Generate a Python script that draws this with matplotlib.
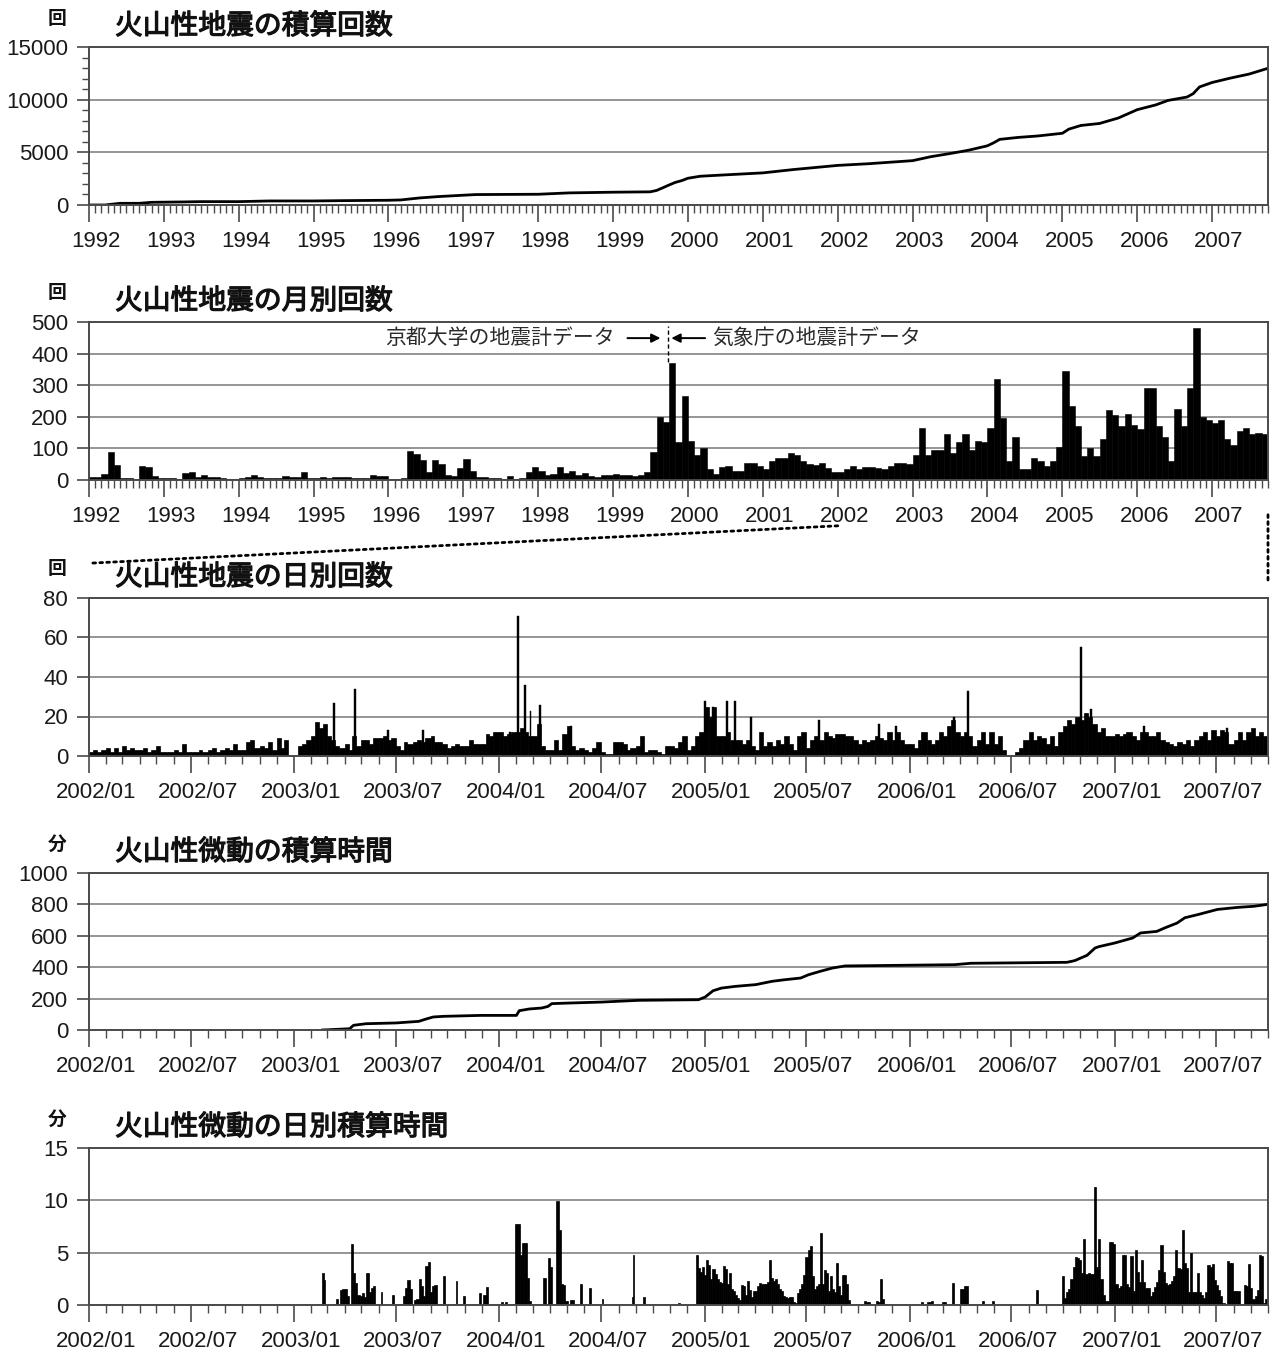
import datetime as dt

import numpy as np
import matplotlib
matplotlib.use("Agg")
import matplotlib.pyplot as plt
import matplotlib.dates as mdates
import matplotlib.patheffects as pe
from matplotlib.patches import ConnectionPatch
from matplotlib.ticker import MultipleLocator
from matplotlib.transforms import ScaledTranslation

plt.rcParams['font.family'] = ['Liberation Sans', 'Noto Sans CJK JP']
JP = ['Noto Sans CJK JP', 'DejaVu Sans']

# 火山性地震の積算回数 (1992-2007)
eq_cum_dates = ['1992-01-01', '1992-03-20', '1992-04-15', '1992-06-01', '1992-09-01', '1992-11-01',
                '1993-04-01', '1993-07-01', '1994-01-01', '1994-06-01', '1995-01-01', '1995-06-01',
                '1996-01-01', '1996-03-01', '1996-06-01', '1996-09-01', '1997-01-01', '1997-03-01',
                '1998-01-01', '1998-06-01', '1999-01-01', '1999-07-01', '1999-08-01', '1999-09-01',
                '1999-10-01', '1999-11-01', '1999-12-01', '2000-01-01', '2000-03-01', '2000-06-01',
                '2001-01-01', '2001-06-01', '2002-01-01', '2002-06-01', '2003-01-01', '2003-04-01',
                '2003-07-01', '2003-10-01', '2004-01-01', '2004-02-01', '2004-03-01', '2004-06-01',
                '2004-09-01', '2005-01-01', '2005-02-01', '2005-04-01', '2005-07-01', '2005-10-01',
                '2006-01-01', '2006-04-01', '2006-06-01', '2006-09-01', '2006-10-01', '2006-11-01',
                '2007-01-01', '2007-04-01', '2007-07-01', '2007-10-01']
eq_cum_values = [0, 0, 60, 160, 160, 255,
                 290, 320, 320, 385, 385, 415,
                 450, 480, 670, 800, 930, 990,
                 1020, 1150, 1215, 1250, 1380, 1640,
                 1900, 2150, 2310, 2540, 2730, 2830,
                 3050, 3370, 3760, 3920, 4210, 4590,
                 4880, 5200, 5620, 5910, 6230, 6420,
                 6550, 6810, 7200, 7550, 7740, 8260,
                 9050, 9500, 9930, 10250, 10570, 11210,
                 11630, 12050, 12430, 12980]

# 火山性地震の月別回数, 1992/01 .. 2007/09
eq_monthly = [
    10, 8, 20, 88, 48, 6, 5, 3, 45, 40, 12, 7,             # 1992
    6, 5, 3, 22, 25, 8, 15, 10, 8, 5, 3, 2,                # 1993
    5, 10, 17, 10, 6, 5, 5, 12, 10, 8, 24, 7,              # 1994
    6, 8, 5, 10, 10, 8, 6, 5, 6, 15, 14, 12,               # 1995
    3, 2, 5, 92, 82, 62, 25, 62, 50, 15, 12, 38,           # 1996
    68, 27, 10, 8, 6, 5, 4, 12, 3, 5, 25, 40,              # 1997
    28, 15, 18, 42, 22, 28, 15, 22, 14, 10, 15, 15,        # 1998
    18, 15, 15, 14, 15, 25, 90, 200, 185, 370, 120, 265,   # 1999
    125, 80, 100, 35, 20, 40, 45, 30, 30, 55, 55, 45,      # 2000
    35, 60, 70, 70, 85, 80, 60, 50, 48, 55, 38, 25,        # 2001
    25, 35, 45, 35, 40, 40, 38, 35, 45, 55, 55, 50,        # 2002
    80, 165, 80, 95, 95, 145, 85, 120, 145, 95, 125, 120,  # 2003
    165, 320, 195, 60, 135, 35, 35, 70, 60, 45, 60, 105,   # 2004
    345, 235, 170, 75, 100, 75, 130, 220, 205, 170, 210, 175,  # 2005
    160, 290, 290, 170, 135, 60, 225, 170, 290, 480, 200, 190,  # 2006
    180, 190, 130, 110, 155, 165, 145, 150, 145,           # 2007
]

# 火山性地震の日別回数: typical level per quarter month (4 values per month)
daily_2002 = [2, 3, 2, 3, 4, 2, 4, 2, 5, 3, 4, 3, 3, 4, 2, 3, 5, 2, 2, 2, 3, 2, 6, 2,
              2, 2, 3, 2, 3, 4, 2, 3, 4, 3, 6, 3, 3, 7, 8, 4, 5, 4, 7, 3, 9, 4, 8, 0]
daily_2003 = [0, 5, 6, 8, 10, 17, 14, 16, 10, 8, 5, 4, 6, 3, 10, 5, 8, 8, 6, 9, 9, 10, 8, 9,
              5, 3, 7, 6, 7, 8, 7, 9, 10, 7, 7, 6, 4, 5, 6, 5, 5, 8, 6, 6, 6, 11, 10, 12]
daily_2004 = [12, 10, 11, 12, 12, 14, 12, 10, 10, 16, 5, 3, 3, 8, 3, 11, 15, 5, 3, 4, 3, 2, 4, 7,
              2, 1, 1, 7, 7, 6, 3, 4, 5, 10, 2, 3, 3, 2, 1, 5, 5, 4, 7, 10, 3, 5, 10, 12]
daily_2005 = [25, 20, 25, 10, 10, 12, 8, 8, 8, 6, 8, 5, 3, 12, 5, 7, 5, 8, 6, 10, 6, 3, 10, 12,
              4, 8, 10, 8, 12, 10, 9, 11, 11, 10, 10, 8, 6, 8, 7, 8, 10, 9, 8, 12, 8, 12, 8, 6]
daily_2006 = [6, 4, 8, 12, 8, 6, 8, 12, 10, 15, 18, 12, 10, 12, 10, 5, 8, 12, 6, 12, 6, 10, 3, 0,
              0, 2, 4, 8, 12, 8, 10, 9, 6, 10, 5, 12, 15, 18, 16, 20, 18, 22, 20, 16, 12, 14, 10, 10]
daily_2007 = [11, 10, 11, 12, 10, 8, 12, 12, 10, 10, 12, 8, 7, 6, 5, 7, 6, 8, 5, 8, 10, 12, 8, 13,
              10, 13, 12, 6, 8, 12, 8, 12, 14, 10, 12, 10]

# single days that stand out above the typical level
spike_dates = ['2003-03-14', '2003-04-19', '2003-06-18', '2003-08-19', '2004-01-20', '2004-02-03',
               '2004-02-16', '2004-02-26', '2004-03-14', '2004-05-08', '2005-01-02', '2005-01-16',
               '2005-02-10', '2005-02-24', '2005-03-25', '2005-07-24', '2005-11-07', '2005-12-07',
               '2006-03-21', '2006-04-15', '2006-11-02', '2006-11-20', '2007-02-22', '2007-07-20']
spike_counts = [27, 34, 13, 13, 12, 71,
                36, 23, 26, 15, 28, 25,
                28, 28, 20, 18, 16, 15,
                20, 33, 55, 24, 15, 14]

# 火山性微動の積算時間 (分)
tremor_cum_dates = ['2003-02-21', '2003-04-10', '2003-04-17', '2003-05-09', '2003-07-02', '2003-08-11',
                    '2003-08-26', '2003-09-06', '2003-09-24', '2003-11-29', '2004-02-01', '2004-02-06',
                    '2004-02-24', '2004-03-17', '2004-03-28', '2004-04-04', '2004-05-07', '2004-07-02',
                    '2004-09-06', '2004-12-21', '2005-01-02', '2005-01-16', '2005-01-31', '2005-02-25',
                    '2005-04-02', '2005-05-01', '2005-05-23', '2005-06-21', '2005-07-05', '2005-07-26',
                    '2005-08-17', '2005-09-08', '2006-03-22', '2006-04-20', '2006-10-08', '2006-10-22',
                    '2006-11-13', '2006-11-27', '2006-12-04', '2007-01-01', '2007-02-02', '2007-02-16',
                    '2007-03-17', '2007-03-31', '2007-04-22', '2007-05-06', '2007-05-28', '2007-07-03',
                    '2007-08-08', '2007-09-06', '2007-09-30']
tremor_cum_values = [0, 8, 30, 40, 45, 55, 72, 83, 87, 93, 93, 123,
                     134, 140, 150, 168, 172, 178, 189, 193, 210, 250, 267, 278,
                     289, 310, 320, 331, 352, 374, 395, 408, 416, 425, 431, 442,
                     476, 522, 531, 554, 586, 618, 628, 650, 681, 715, 734, 768,
                     781, 788, 800]

# 火山性微動の日別積算時間: runs of active days (first day, last day, minutes)
tremor_first = ['2003-02-21', '2003-03-18', '2003-04-14', '2003-06-06', '2003-06-26', '2003-07-16',
                '2003-09-25', '2003-10-17', '2003-10-31', '2003-11-28', '2004-01-06', '2004-02-01',
                '2004-03-22', '2004-04-14', '2004-05-26', '2004-06-11', '2004-07-03', '2004-08-25',
                '2004-09-15', '2004-11-16', '2004-12-19', '2005-10-14', '2006-01-23', '2006-03-02',
                '2006-05-11', '2006-08-16', '2006-10-01']
tremor_last = ['2003-02-24', '2003-04-07', '2003-05-24', '2003-06-06', '2003-06-26', '2003-09-10',
               '2003-09-25', '2003-10-17', '2003-10-31', '2003-12-10', '2004-01-14', '2004-02-25',
               '2004-04-03', '2004-05-12', '2004-05-26', '2004-06-11', '2004-07-03', '2004-08-27',
               '2004-09-15', '2004-11-16', '2005-09-15', '2005-11-15', '2006-02-10', '2006-04-14',
               '2006-05-29', '2006-08-16', '2007-09-28']
tremor_minutes = [
    [3.1, 2.4],
    [0.6, 0, 1.4, 1.5, 1.5, 0.9],
    [5.8, 3.1, 2.1, 1.0, 0.9, 1.1, 0.8, 3.1, 1.2, 1.6, 1.8],
    [1.2],
    [1.0],
    [0.9, 1.6, 2.4, 1.5, 0, 0.5, 0.6, 2.5, 1.8, 0.9, 3.7, 4.1, 1.2, 1.8, 1.9],
    [2.8],
    [2.3],
    [0.9],
    [1.1, 0, 1.0, 1.7],
    [0.3, 0, 0.3],
    [7.7, 7.7, 4.8, 5.9, 5.9, 2.6, 0.4],
    [2.6, 0, 4.5, 3.6],
    [9.9, 7.2, 2.0, 1.9, 0.4, 0, 0.5, 0.5],
    [2.0],
    [1.6],
    [0.6],
    [0.8, 4.8],
    [0.8],
    [0.2],
    [4.8, 3.5, 3.2, 3.6, 2.9, 4.3, 3.8, 2.5, 3.4, 3.0, 2.5, 2.2, 2.1, 3.7, 3.4, 2.0,
     3.1, 1.5, 1.3, 1.0, 0.7, 0.5, 1.9, 1.8, 1.0, 2.3, 1.4, 0.8, 1.3, 1.3, 1.8, 2.1,
     2.0, 2.0, 2.0, 2.2, 4.3, 2.6, 2.3, 2.5, 2.0, 1.5, 1.3, 0.9, 0.8, 0.7, 0.8, 0.8,
     0.3, 0.2, 1.1, 1.5, 2.0, 2.9, 4.6, 5.3, 5.6, 2.8, 1.5, 1.8, 2.0, 6.9, 2.0, 3.3,
     3.1, 1.3, 2.8, 1.5, 1.2, 4.0, 1.8, 1.0, 2.9, 2.9, 2.0, 0.5],
    [0.4, 0.3, 0.3, 0, 0, 0, 0.4, 0.3, 2.5, 0.6],
    [0.3, 0, 0, 0.3, 0.3, 0.4],
    [0.3, 0.3, 0, 0, 0, 2.1, 0, 0, 0, 1.5, 1.5, 1.8, 1.8],
    [0.4, 0, 0, 0, 0, 0.4],
    [1.4],
    [2.8, 0.7, 1.2, 1.5, 2.5, 3.6, 4.6, 4.5, 4.3, 3.1, 6.3, 3.0, 3.1, 3.0, 3.0, 11.3,
     3.6, 6.3, 2.5, 1.0, 0.4, 0.4, 6.0, 6.0, 5.8, 2.0, 1.6, 1.8, 4.8, 4.8, 2.0, 1.7,
     4.7, 1.3, 5.3, 3.2, 2.2, 4.3, 2.2, 1.6, 1.6, 0.9, 1.2, 1.7, 2.2, 3.3, 5.7, 3.2,
     2.1, 1.9, 2.0, 2.3, 2.8, 5.3, 3.5, 3.4, 7.2, 4.0, 3.5, 1.2, 5.0, 1.2, 1.2, 3.1,
     1.2, 1.0, 0.7, 1.2, 3.8, 3.6, 3.9, 2.4, 1.9, 1.4, 0.9, 0.2, 0, 4.2, 4.0, 4.0,
     1.3, 1.3, 1.3, 0.1, 0, 1.9, 1.8, 3.9, 1.6, 0.6, 0.9, 1.4, 4.8, 4.7, 0.2, 0.6],
]


def to_num(s):
    return mdates.date2num(dt.datetime.strptime(s, '%Y-%m-%d'))


def month_start(year, month):
    year += (month - 1) // 12
    month = (month - 1) % 12 + 1
    return dt.datetime(year, month, 1)


W, H = 1274, 1353
LEFT, RIGHT = 89, 1268
GRID = '#8c8c8c'
SPINE = '#4a4a4a'
TICK_FS = 16

fig = plt.figure(figsize=(W / 100, H / 100), dpi=100)
# a thin outline gives the regular CJK face a medium weight
heavier = [pe.withStroke(linewidth=0.9, foreground='#111111')]


def panel(top, bottom, ymax, ystep, title, unit, long_axis):
    ax = fig.add_axes([LEFT / W, 1 - bottom / H, (RIGHT - LEFT) / W, (bottom - top) / H])
    ax.set_ylim(0, ymax)
    ax.set_yticks(np.arange(0, ymax + 1, ystep))
    ax.yaxis.grid(True, color=GRID, lw=1.3)
    ax.set_axisbelow(True)
    for sp in ax.spines.values():
        sp.set_color(SPINE)
        sp.set_linewidth(1.4)
    if long_axis:
        ax.set_xlim(dt.datetime(1992, 1, 1), dt.datetime(2007, 10, 1))
        ax.xaxis.set_major_locator(mdates.YearLocator())
        ax.xaxis.set_major_formatter(mdates.DateFormatter('%Y'))
    else:
        ax.set_xlim(dt.datetime(2002, 1, 1), dt.datetime(2007, 10, 1))
        ax.xaxis.set_major_locator(mdates.MonthLocator(bymonth=[1, 7]))
        ax.xaxis.set_major_formatter(mdates.DateFormatter('%Y/%m'))
    ax.xaxis.set_minor_locator(mdates.MonthLocator())
    ax.tick_params(axis='x', which='major', length=12, width=1.2, color=SPINE,
                   labelsize=TICK_FS, pad=7, labelcolor='#1a1a1a')
    ax.tick_params(axis='x', which='minor', length=6, width=1.0, color=SPINE)
    ax.tick_params(axis='y', which='major', length=9, width=1.2, color=SPINE,
                   labelsize=TICK_FS, pad=6, labelcolor='#1a1a1a')
    ax.tick_params(axis='y', which='minor', length=5, width=1.0, color=SPINE)
    shift = ScaledTranslation(0.07, 0, fig.dpi_scale_trans)
    for lab in ax.xaxis.get_majorticklabels():
        lab.set_transform(lab.get_transform() + shift)
    fig.text(115 / W, 1 - (top - 21) / H, title, family=JP, fontsize=20,
             va='center', ha='left', color='#111111', path_effects=heavier)
    fig.text(57 / W, 1 - (top - 29) / H, unit, family=JP, fontsize=13.5,
             weight='bold', va='center', ha='center', color='#111111')
    return ax


# 1) cumulative earthquake count
ax1 = panel(47, 205, 15000, 5000, '火山性地震の積算回数', '回', True)
ax1.yaxis.set_minor_locator(MultipleLocator(1000))
ax1.plot([to_num(s) for s in eq_cum_dates], eq_cum_values, color='black', lw=2)

# 2) monthly earthquake count
ax2 = panel(322, 480, 500, 100, '火山性地震の月別回数', '回', True)
m_start = [month_start(1992, i + 1) for i in range(len(eq_monthly))]
m_width = [(month_start(1992, i + 2) - m_start[i]).days for i in range(len(eq_monthly))]
ax2.bar(mdates.date2num(m_start), eq_monthly, width=m_width, align='edge',
        color='black', edgecolor='black', lw=0.4)

switch = mdates.date2num(dt.datetime(1999, 9, 28))
ax2.plot([switch, switch], [372, 486], color='black', lw=1, ls=(0, (3, 2)))
ax2.text(to_num('1999-01-08'), 449, '京都大学の地震計データ', family=JP, fontsize=15,
         ha='right', va='center', color='#2a2a2a')
ax2.text(to_num('2000-04-26'), 449, '気象庁の地震計データ', family=JP, fontsize=15,
         ha='left', va='center', color='#2a2a2a')
arrow = dict(arrowstyle='-|>', color='black', lw=1.4, mutation_scale=13, shrinkA=0, shrinkB=0)
ax2.annotate('', xy=(to_num('1999-08-20'), 449), xytext=(to_num('1999-03-12'), 449),
             arrowprops=arrow)
ax2.annotate('', xy=(to_num('1999-10-12'), 449), xytext=(to_num('2000-03-25'), 449),
             arrowprops=arrow)

# 3) daily earthquake count
ax3 = panel(598, 756, 80, 20, '火山性地震の日別回数', '回', False)
for year, vals in [(2002, daily_2002), (2003, daily_2003), (2004, daily_2004),
                   (2005, daily_2005), (2006, daily_2006), (2007, daily_2007)]:
    starts, widths = [], []
    for i in range(len(vals)):
        m, q = divmod(i, 4)
        first = month_start(year, m + 1)
        s = first + dt.timedelta(days=7 * q)
        e = first + dt.timedelta(days=7 * (q + 1)) if q < 3 else month_start(year, m + 2)
        starts.append(mdates.date2num(s))
        widths.append((e - s).days)
    ax3.bar(starts, vals, width=widths, align='edge', color='black',
            edgecolor='black', lw=0.5)
ax3.bar([to_num(s) for s in spike_dates], spike_counts, width=3.5, color='black',
        edgecolor='black', lw=0.3)

# 4) cumulative tremor duration
ax4 = panel(873, 1030, 1000, 200, '火山性微動の積算時間', '分', False)
ax4.plot([to_num(s) for s in tremor_cum_dates], tremor_cum_values, color='black', lw=2)

# 5) daily tremor duration
ax5 = panel(1148, 1305, 15, 5, '火山性微動の日別積算時間', '分', False)
for first, last, vals in zip(tremor_first, tremor_last, tremor_minutes):
    a, b = to_num(first), to_num(last)
    if len(vals) > 1:
        xs = np.linspace(a, b, len(vals))
        w = (b - a) / (len(vals) - 1)
    else:
        xs, w = [a], 3.0
    ax5.bar(xs, vals, width=w, color='black', edgecolor='black', lw=0.5)

# dotted guide from the monthly panel to the daily panel (2002/01 - 2007/09)
dotted = dict(color='black', lw=2, ls=(0, (1, 1.5)))
x0 = mdates.date2num(dt.datetime(2002, 1, 1))
x1 = mdates.date2num(dt.datetime(2007, 10, 1))
fig.add_artist(ConnectionPatch(xyA=(x0, -0.29), coordsA=ax2.get_xaxis_transform(),
                               xyB=(x0, 1.22), coordsB=ax3.get_xaxis_transform(), **dotted))
fig.add_artist(ConnectionPatch(xyA=(x1, -0.22), coordsA=ax2.get_xaxis_transform(),
                               xyB=(x1, 1.095), coordsB=ax3.get_xaxis_transform(), **dotted))

fig.savefig('out.png', dpi=100, facecolor='white')
